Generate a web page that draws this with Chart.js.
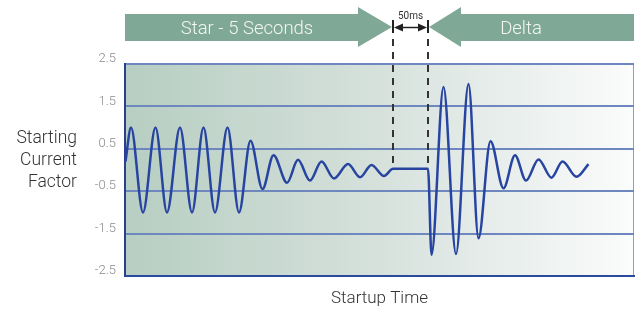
<!DOCTYPE html>
<html>
<head>
<meta charset="utf-8">
<script src="https://cdn.jsdelivr.net/npm/chart.js@4.4.1/dist/chart.umd.min.js"></script>
<style>
  html, body { margin: 0; padding: 0; background: #ffffff; }
  #wrap { width: 635px; height: 311px; position: relative; }
</style>
</head>
<body>
<div id="wrap"><canvas id="c" width="635" height="311"></canvas></div>
<script>
// ---- data (time in arbitrary units, current factor) ----
const timeSteps = [0.5, 6, 18, 30.5, 42, 55, 67, 78.5, 90, 102.5, 114, 125.5, 137.5, 148.5, 162, 173, 185, 196.5, 209, 223, 235, 246.5, 259, 268, 303, 306.5, 318.5, 331, 343.5, 353.5, 365.5, 378.5, 390, 401, 413.5, 426.5, 437.5, 451.5, 463.5];
const currentFactor = [0.2, 1.0, -1.0, 1.0, -1.0, 1.0, -1.0, 1.0, -1.0, 1.0, -1.0, 0.69, -0.45, 0.35, -0.3, 0.24, -0.25, 0.2, -0.2, 0.14, -0.17, 0.12, -0.14, 0.03, 0.03, -2.0, 1.96, -1.98, 2.03, -1.61, 0.68, -0.43, 0.35, -0.25, 0.25, -0.18, 0.2, -0.16, 0.14];
const yTicks = [-2.5, -1.5, -0.5, 0.5, 1.5, 2.5];
const switchTimes = [268, 303];          // star -> delta switch (50 ms gap)
const phaseLabels = ['Star - 5 Seconds', 'Delta'];
const gapLabel = '50ms';
const yTitleLines = ['Starting', 'Current', 'Factor'];
const xTitle = 'Startup Time';
const timeRange = [0, 509];

const points = timeSteps.map((t, i) => ({ x: t, y: currentFactor[i] }));

const bgPlugin = {
  id: 'bg',
  beforeDraw(chart) {
    const { ctx, chartArea: a } = chart;
    const g = ctx.createLinearGradient(a.left, 0, a.right, 0);
    g.addColorStop(0, '#b7cec2');
    g.addColorStop(0.5, '#d6e1dc');
    g.addColorStop(1, '#fbfcfc');
    ctx.save();
    ctx.fillStyle = g;
    ctx.fillRect(a.left, a.top, a.right - a.left, a.bottom - a.top);
    ctx.strokeStyle = '#8a9fcf';
    ctx.lineWidth = 1;
    ctx.beginPath();
    ctx.moveTo(a.right - 0.5, a.top);
    ctx.lineTo(a.right - 0.5, a.bottom);
    ctx.stroke();
    ctx.restore();
  }
};

const dashPlugin = {
  id: 'dashes',
  beforeDatasetsDraw(chart) {
    const { ctx } = chart;
    const xs = chart.scales.x, ys = chart.scales.y;
    const yEnd = ys.getPixelForValue(currentFactor[timeSteps.indexOf(switchTimes[0])]);
    ctx.save();
    ctx.strokeStyle = '#333333';
    ctx.lineWidth = 2;
    ctx.setLineDash([7, 6]);
    switchTimes.forEach(t => {
      const px = Math.round(xs.getPixelForValue(t)) ;
      ctx.beginPath();
      ctx.moveTo(px, 39);
      ctx.lineTo(px, yEnd);
      ctx.stroke();
    });
    ctx.restore();
  }
};

const arrowPlugin = {
  id: 'arrows',
  afterDraw(chart) {
    const { ctx, chartArea: a } = chart;
    const xs = chart.scales.x;
    const t1 = Math.round(xs.getPixelForValue(switchTimes[0]));
    const t2 = Math.round(xs.getPixelForValue(switchTimes[1]));
    const green = '#80a896';
    ctx.save();
    // star arrow (pointing right)
    ctx.fillStyle = green;
    ctx.beginPath();
    ctx.moveTo(a.left, 14);
    ctx.lineTo(t1 - 35, 14);
    ctx.lineTo(t1 - 35, 7);
    ctx.lineTo(t1 - 1, 27);
    ctx.lineTo(t1 - 35, 47);
    ctx.lineTo(t1 - 35, 41);
    ctx.lineTo(a.left, 41);
    ctx.closePath();
    ctx.fill();
    // delta arrow (pointing left)
    ctx.beginPath();
    ctx.moveTo(a.right, 14);
    ctx.lineTo(t2 + 33, 14);
    ctx.lineTo(t2 + 33, 7);
    ctx.lineTo(t2 + 1, 27);
    ctx.lineTo(t2 + 33, 47);
    ctx.lineTo(t2 + 33, 41);
    ctx.lineTo(a.right, 41);
    ctx.closePath();
    ctx.fill();
    // labels
    ctx.fillStyle = '#f2f6f4';
    ctx.font = '300 18.5px Roboto, "Liberation Sans", sans-serif';
    ctx.textAlign = 'center';
    ctx.textBaseline = 'alphabetic';
    ctx.fillText(phaseLabels[0], t1 - 146, 34);
    ctx.fillText(phaseLabels[1], t2 + 93, 34);
    // dimension marker
    ctx.strokeStyle = '#222';
    ctx.fillStyle = '#222';
    ctx.lineWidth = 2;
    ctx.beginPath();
    ctx.moveTo(t1, 20); ctx.lineTo(t1, 33);
    ctx.moveTo(t2, 20); ctx.lineTo(t2, 33);
    ctx.stroke();
    ctx.lineWidth = 1.5;
    ctx.beginPath();
    ctx.moveTo(t1 + 8, 27.5); ctx.lineTo(t2 - 8, 27.5);
    ctx.stroke();
    ctx.beginPath();
    ctx.moveTo(t1 + 1, 27.5); ctx.lineTo(t1 + 10, 23.5); ctx.lineTo(t1 + 10, 31.5); ctx.closePath();
    ctx.moveTo(t2 - 1, 27.5); ctx.lineTo(t2 - 10, 23.5); ctx.lineTo(t2 - 10, 31.5); ctx.closePath();
    ctx.fill();
    ctx.fillStyle = '#333';
    ctx.font = '10px Roboto, "Liberation Sans", sans-serif';
    ctx.fillText(gapLabel, (t1 + t2) / 2, 19);
    // y title
    ctx.fillStyle = '#333333';
    ctx.font = '300 17.5px Roboto, "Liberation Sans", sans-serif';
    ctx.textAlign = 'right';
    yTitleLines.forEach((s, i) => ctx.fillText(s, 77, 143 + i * 22));
    ctx.restore();
  }
};

new Chart(document.getElementById('c'), {
  type: 'line',
  data: {
    datasets: [{
      data: points,
      borderColor: '#2744a0',
      borderWidth: 2.5,
      pointRadius: 0,
      cubicInterpolationMode: 'monotone',
      fill: false
    }]
  },
  options: {
    responsive: false,
    animation: false,
    events: [],
    layout: { padding: { top: 64, right: 1, bottom: 0, left: 0 } },
    plugins: { legend: { display: false }, tooltip: { enabled: false } },
    scales: {
      x: {
        type: 'linear',
        min: timeRange[0],
        max: timeRange[1],
        ticks: { display: false },
        grid: { display: false },
        border: { display: true, color: '#2a4a9e', width: 2 },
        title: {
          display: true,
          text: xTitle,
          color: '#333333',
          font: { family: 'Roboto, "Liberation Sans", sans-serif', size: 17, weight: 300 },
          padding: { top: 0, bottom: 2 }
        },
        afterFit(s) { s.height = 35; }
      },
      y: {
        min: yTicks[0],
        max: yTicks[yTicks.length - 1],
        afterBuildTicks(s) { s.ticks = yTicks.map(v => ({ value: v })); },
        ticks: {
          color: '#8c8c8c',
          padding: 9,
          labelOffset: -5,
          font: { family: 'Roboto, "Liberation Sans", sans-serif', size: 13, weight: 300 },
          callback: v => String(v)
        },
        grid: { color: '#6f87bf', lineWidth: 2, drawTicks: false },
        border: { display: true, color: '#2b3f8f', width: 2 },
        afterFit(s) { s.width = 125; }
      }
    }
  },
  plugins: [bgPlugin, dashPlugin, arrowPlugin]
});
</script>
</body>
</html>
